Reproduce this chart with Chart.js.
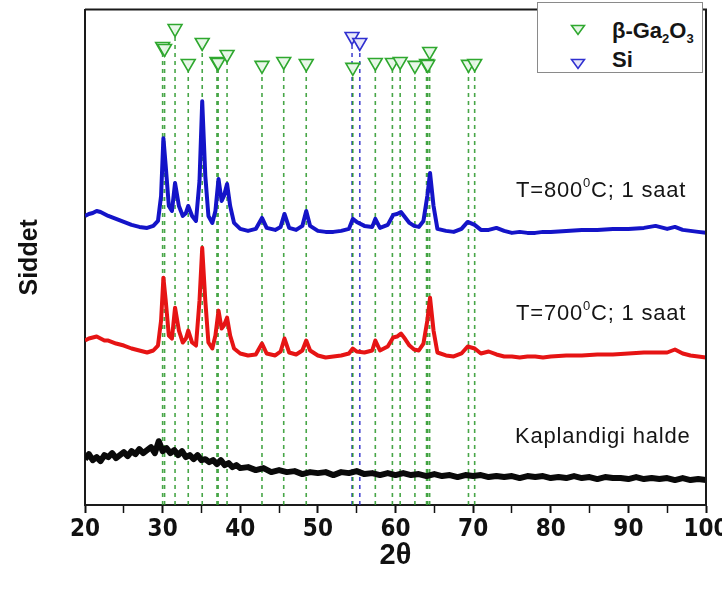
<!DOCTYPE html>
<html>
<head>
<meta charset="utf-8">
<script src="https://cdn.jsdelivr.net/npm/chart.js@4.4.1/dist/chart.umd.min.js"></script>
<style>
  html, body { margin: 0; padding: 0; background: #ffffff; }
  #wrap { position: relative; width: 722px; height: 598px; overflow: hidden; }
  #wrap canvas { position: absolute; left: 0; top: 0; }
  .note { position: absolute; font-family: "Liberation Sans", Arial, sans-serif; font-size: 22px; letter-spacing: 0.8px; color: #151515; white-space: nowrap; line-height: 1; }
  .note sup { font-size: 13px; vertical-align: 0; position: relative; top: -10px; }
  #legend { position: absolute; left: 537px; top: 2px; width: 164px; height: 69px; border: 1px solid #8a8a8a; background: #ffffff; }
  #legend .row { position: absolute; left: 0; font-family: "Liberation Sans", Arial, sans-serif; font-weight: bold; font-size: 22px; color: #151515; line-height: 1; white-space: nowrap; }
  #legend svg { position: absolute; }
  #legend .lbl { position: absolute; left: 74px; }
  #legend sub { font-size: 13px; vertical-align: 0; position: relative; top: 5px; }
</style>
</head>
<body>
<div id="wrap">
  <canvas id="c" width="722" height="598"></canvas>
  <div class="note" style="left:516px; top:179px;">T=800<sup>0</sup>C; 1 saat</div>
  <div class="note" style="left:516px; top:302px;">T=700<sup>0</sup>C; 1 saat</div>
  <div class="note" style="left:515px; top:425px;">Kaplandigi halde</div>
  <div id="legend">
    <svg style="left:32px; top:21px;" width="16" height="12" viewBox="0 0 16 12"><polygon points="1.5,1.5 14.5,1.5 8,10.5" fill="#e6f6e6" stroke="#2fa82f" stroke-width="1.6"/></svg>
    <div class="row lbl" style="top:17px;">&beta;-Ga<sub>2</sub>O<sub>3</sub></div>
    <svg style="left:32px; top:55px;" width="16" height="12" viewBox="0 0 16 12"><polygon points="1.5,1.5 14.5,1.5 8,10.5" fill="#e6e6fa" stroke="#3030d0" stroke-width="1.6"/></svg>
    <div class="row lbl" style="top:46px;">Si</div>
  </div>
</div>
<script>
// ---- data (2θ in degrees, intensity in arbitrary units) ----
const twoThetaAnnealed = [20.0,20.5,21.0,21.5,22.0,22.5,23.0,24.0,25.0,26.0,27.0,28.0,28.8,29.4,29.8,30.1,30.4,30.8,31.2,31.6,32.1,32.6,33.0,33.3,33.8,34.3,34.75,35.1,35.5,35.9,36.4,36.8,37.2,37.6,37.9,38.3,38.7,39.2,40.0,41.0,42.0,42.8,43.4,44.5,45.2,45.7,46.3,47.2,48.0,48.5,49.0,50.0,51.0,52.0,53.0,54.0,54.5,55.0,56.0,57.0,57.4,58.0,59.0,59.7,60.2,60.7,61.2,61.8,62.4,63.0,63.6,64.1,64.45,64.9,65.4,66.5,67.5,68.5,69.3,70.2,71.0,72.0,73.0,74.0,75.0,76.0,77.0,78.0,79.0,80.0,82.0,84.0,86.0,88.0,90.0,92.0,93.5,95.0,96.0,97.0,98.0,99.0,100.0];

const intensity800C = [290,292,293,295,294,292,290,287,284,281,279,278,280,285,310,368,340,300,295,323,300,290,293,300,290,285,325,405,330,290,283,295,327,305,310,322,300,283,277,275,277,288,278,276,279,292,278,276,280,295,280,275,274,274,275,277,287,284,280,279,287,278,281,291,292,294,289,283,280,279,285,310,333,300,277,275,274,277,284,281,276,276,278,275,273,274,273,273,274,274,275,276,276,277,277,278,280,277,279,276,275,274,273];

const intensity700C = [165,167,168,169,167,165,165,162,160,157,155,153,155,160,185,228,205,170,167,198,175,163,167,175,163,160,205,258,205,163,157,170,195,177,180,188,170,157,152,150,151,162,152,150,154,167,153,151,155,165,155,150,148,149,150,152,157,154,153,155,165,155,159,168,169,172,167,160,156,155,162,185,208,175,153,150,149,152,159,157,152,154,151,149,149,148,149,149,148,149,150,150,151,151,152,153,153,153,156,152,150,149,148];

const twoThetaAsCoated = [20.0,20.5,21.0,21.5,22.0,22.5,23.0,23.5,24.0,24.5,25.0,25.5,26.0,26.5,27.0,27.5,28.0,28.5,29.0,29.5,30.0,30.5,31.0,31.5,32.0,32.5,33.0,33.5,34.0,34.5,35.0,35.5,36.0,36.5,37.0,37.5,38.0,38.5,39.0,39.5,40,41,42,43,44,45,46,47,48,49,50,51,52,53,54,55,56,57,58,59,60,61,62,63,64,65,66,67,68,69,70,71,72,73,74,75,76,77,78,79,80,81,82,83,84,85,86,87,88,89,90,91,92,93,94,95,96,97,98,99,100];

const intensityAsCoated = [46,51,45,48,44,50,48,52,47,50,53,49,54,51,56,52,55,58,52,64,54,57,52,55,50,54,48,50,46,50,45,46,43,45,41,45,40,42,38,40,37,38,35,37,33,35,33,34,31,33,32,33,30,33,32,34,31,32,30,32,30,32,30,31,29,31,29,30,28,30,29,30,28,29,28,29,27,29,28,29,27,28,27,29,27,28,26,28,27,27,26,28,26,27,26,27,25,27,25,26,25];

// reference line positions (2θ) and the height of their markers
const ga2o3Peaks   = [30.0,30.25,31.6,33.3,35.1,37.0,37.15,38.3,42.8,45.6,48.5,54.5,57.4,59.6,60.6,62.5,64.0,64.15,64.4,69.4,70.2];
const ga2o3Markers = [460,458,478,443,464,445,444,452,441,445,443,439,444,444,445,441,443,442,455,442,443];
const siPeaks      = [54.4,55.4];
const siMarkers    = [470,464];

const xTickLabels = [20,30,40,50,60,70,80,90,100];

// ---- build datasets ----
const toPoints = (xs, ys) => xs.map((x, i) => ({x: x, y: ys[i]}));

const traceDatasets = [
  {label: 'T=800°C; 1 saat', data: toPoints(twoThetaAnnealed, intensity800C), borderColor: '#1414c8', borderWidth: 4},
  {label: 'T=700°C; 1 saat', data: toPoints(twoThetaAnnealed, intensity700C), borderColor: '#e61414', borderWidth: 4},
  {label: 'Kaplandigi halde', data: toPoints(twoThetaAsCoated, intensityAsCoated), borderColor: '#0a0a0a', borderWidth: 6}
].map(d => Object.assign(d, {type: 'line', pointRadius: 0, tension: 0, fill: false, borderJoinStyle: 'round'}));

const markerDatasets = [
  {label: 'β-Ga2O3', data: toPoints(ga2o3Peaks, ga2o3Markers), borderColor: '#2fa82f', backgroundColor: 'rgba(232,247,232,0.95)'},
  {label: 'Si', data: toPoints(siPeaks, siMarkers), borderColor: '#3030d0', backgroundColor: 'rgba(232,232,250,0.95)'}
].map(d => Object.assign(d, {type: 'scatter', pointStyle: 'triangle', rotation: 180, pointRadius: 8, pointHoverRadius: 8, pointBorderWidth: 1.6, showLine: false}));

const dropLine = (x, top, color) => ({
  type: 'line', label: '', data: [{x: x, y: 0}, {x: x, y: top}],
  borderColor: color, borderWidth: 1.6, borderDash: [4, 4], pointRadius: 0, fill: false
});
const lineDatasets = ga2o3Peaks.map((p, i) => dropLine(p, ga2o3Markers[i], 'rgba(40,150,40,0.85)'))
  .concat(siPeaks.map((p, i) => dropLine(p, siMarkers[i], 'rgba(40,40,200,0.85)')));

const framePlugin = {
  id: 'frame',
  afterDraw(chart) {
    const {ctx, chartArea: a} = chart;
    ctx.save();
    ctx.strokeStyle = '#1a1a1a';
    ctx.lineWidth = 2;
    ctx.beginPath();
    ctx.moveTo(a.left, a.top);
    ctx.lineTo(a.right, a.top);
    ctx.lineTo(a.right, a.bottom);
    ctx.stroke();
    ctx.restore();
  }
};

new Chart(document.getElementById('c'), {
  data: {datasets: traceDatasets.concat(markerDatasets, lineDatasets)},
  options: {
    responsive: false,
    animation: false,
    layout: {padding: {top: 8, right: 16, left: 0, bottom: 0}},
    plugins: {legend: {display: false}, tooltip: {enabled: false}},
    scales: {
      x: {
        type: 'linear', min: 20, max: 100,
        afterFit: s => { s.height = 93; s.paddingLeft = 0; s.paddingRight = 0; },
        afterBuildTicks: s => { s.ticks = [20,25,30,35,40,45,50,55,60,65,70,75,80,85,90,95,100].map(v => ({value: v})); },
        ticks: {
          autoSkip: false, maxRotation: 0, padding: 2, color: '#111',
          font: {family: '"Liberation Sans Narrow", "DejaVu Sans Condensed", Arial, sans-serif', size: 24, weight: 'bold'},
          callback: v => (xTickLabels.includes(v) ? String(v) : '')
        },
        grid: {display: true, drawOnChartArea: false, drawTicks: true, tickLength: 8, tickColor: '#111',
               tickWidth: c => (c.tick && c.tick.value % 10 === 0 ? 2 : 1.5)},
        border: {display: true, color: '#1a1a1a', width: 2},
        title: {display: true, text: '2θ', color: '#111',
                font: {family: '"Liberation Sans", Arial, sans-serif', size: 29, weight: 'bold'},
                padding: {top: 0, bottom: 25}}
      },
      y: {
        type: 'linear', min: 0, max: 497,
        afterFit: s => { s.width = 85; },
        ticks: {display: false},
        grid: {display: false, drawTicks: false},
        border: {display: true, color: '#1a1a1a', width: 2},
        title: {display: true, text: 'Siddet', color: '#111',
                font: {family: '"Liberation Sans", Arial, sans-serif', size: 25, weight: 'bold'},
                padding: {top: 15, bottom: 0}}
      }
    }
  },
  plugins: [framePlugin]
});
</script>
</body>
</html>
